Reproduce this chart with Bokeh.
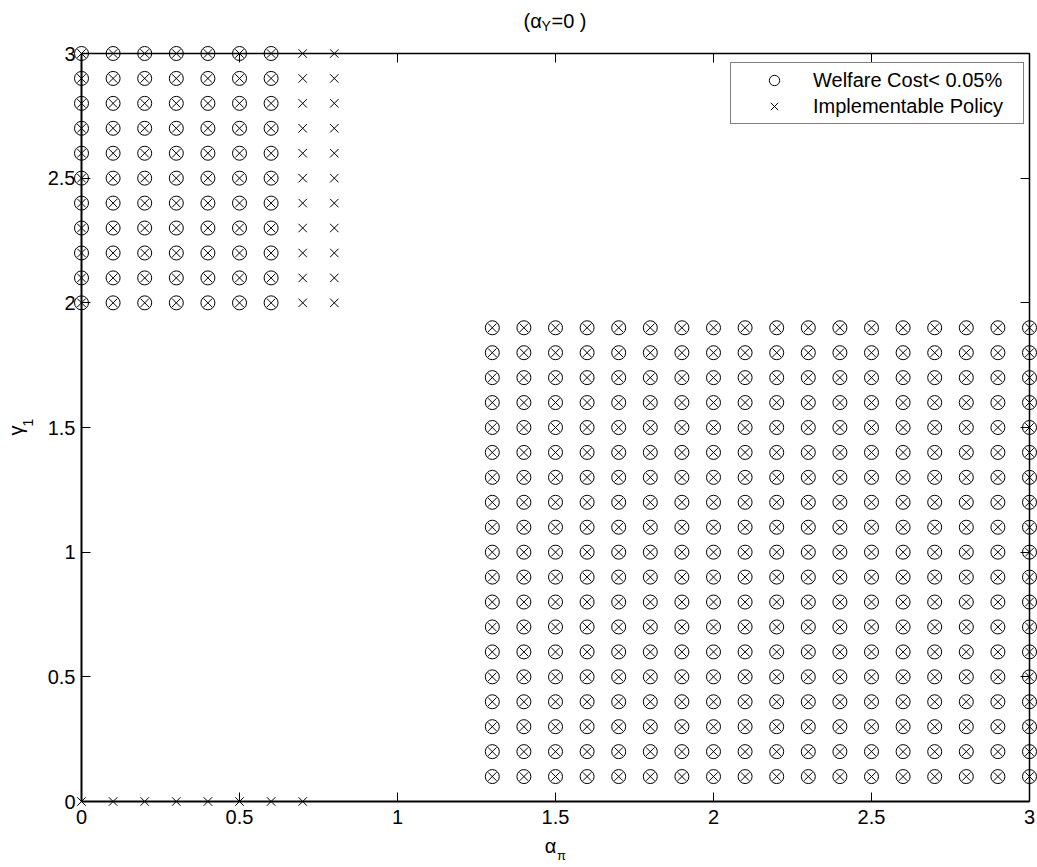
import math
from bokeh.plotting import figure
from bokeh.models import Range1d, LinearAxis, FixedTicker, Label, Legend, LegendItem, ColumnDataSource
from bokeh.core.properties import value
from bokeh.embed import file_html
from bokeh.resources import INLINE

# ---- data ----
# upper-left block
ul_alpha_circle = [0.0, 0.1, 0.2, 0.3, 0.4, 0.5, 0.6]
ul_alpha_cross = [0.0, 0.1, 0.2, 0.3, 0.4, 0.5, 0.6, 0.7, 0.8]
ul_gamma = [2.0, 2.1, 2.2, 2.3, 2.4, 2.5, 2.6, 2.7, 2.8, 2.9, 3.0]
# bottom row (gamma = 0)
bot_alpha_cross = [0.0, 0.1, 0.2, 0.3, 0.4, 0.5, 0.6, 0.7]
bot_gamma = [0.0]
# lower-right block
lr_alpha = [1.3, 1.4, 1.5, 1.6, 1.7, 1.8, 1.9, 2.0, 2.1, 2.2, 2.3, 2.4,
            2.5, 2.6, 2.7, 2.8, 2.9, 3.0]
lr_gamma = [0.1, 0.2, 0.3, 0.4, 0.5, 0.6, 0.7, 0.8, 0.9, 1.0, 1.1, 1.2,
            1.3, 1.4, 1.5, 1.6, 1.7, 1.8, 1.9]
tick_values = [0, 0.5, 1, 1.5, 2, 2.5, 3]
axis_min, axis_max = 0, 3
legend_labels = ["Welfare Cost< 0.05%", "Implementable Policy"]


def grid(xs, ys):
    gx, gy = [], []
    for yv in ys:
        for xv in xs:
            gx.append(xv)
            gy.append(yv)
    return gx, gy


cx1, cy1 = grid(ul_alpha_circle, ul_gamma)
cx2, cy2 = grid(lr_alpha, lr_gamma)
xx1, xy1 = grid(ul_alpha_cross, ul_gamma)
xx2, xy2 = grid(bot_alpha_cross, bot_gamma)
xx3, xy3 = grid(lr_alpha, lr_gamma)

circ_src = ColumnDataSource(dict(x=cx1 + cx2, y=cy1 + cy2))
cross_src = ColumnDataSource(dict(x=xx1 + xx2 + xx3, y=xy1 + xy2 + xy3))

FONT = "Liberation Sans"

# canvas geometry (pixels): plot box from (81,53) to (1029,801)
W, H = 1037, 867
BOX_L, BOX_R, BOX_T, BOX_B = 81, 1029, 53, 801
sx = (BOX_R - BOX_L) / (axis_max - axis_min)
sy = (BOX_B - BOX_T) / (axis_max - axis_min)
x_range = Range1d(axis_min - BOX_L / sx, axis_max + (W - BOX_R) / sx)
y_range = Range1d(axis_min - (H - BOX_B) / sy, axis_max + BOX_T / sy)

p = figure(frame_width=W, frame_height=H, x_range=x_range, y_range=y_range,
           output_backend="svg", toolbar_location=None,
           min_border=0, background_fill_color="white",
           border_fill_color="white", outline_line_color=None)
p.grid.visible = False

r_circ = p.scatter("x", "y", source=circ_src, marker="circle", size=14,
                   fill_color=None, line_color="black", line_width=1)
r_cross = p.scatter("x", "y", source=cross_src, marker="x", size=12,
                    line_color="black", line_width=1)

ticker = FixedTicker(ticks=tick_values)


def style_axis(ax, loc, labels=True, lw=1.5):
    ax.ticker = ticker
    ax.fixed_location = loc
    ax.bounds = (axis_min, axis_max)
    ax.minor_tick_line_color = None
    ax.major_tick_in = 9
    ax.major_tick_out = 0
    ax.axis_line_color = "black"
    ax.axis_line_width = lw
    ax.major_tick_line_color = "black"
    ax.major_tick_line_width = 1
    ax.major_label_text_font = FONT
    ax.major_label_text_color = "black"
    ax.major_label_text_font_size = "20px"
    if not labels:
        ax.major_label_overrides = {t: "" for t in tick_values}


style_axis(p.xaxis[0], axis_min, True, 2)
style_axis(p.yaxis[0], axis_min, True, 2)
p.xaxis[0].major_label_standoff = 8
p.yaxis[0].major_label_standoff = 6

top_ax = LinearAxis()
right_ax = LinearAxis()
style_axis(top_ax, axis_max, False, 1.5)
style_axis(right_ax, axis_max, False, 1.5)
p.add_layout(top_ax, "above")
p.add_layout(right_ax, "right")

legend = Legend(items=[LegendItem(label=legend_labels[0], renderers=[r_circ]),
                       LegendItem(label=legend_labels[1], renderers=[r_cross])],
                location=(730, H - 124))
legend.margin = 0
legend.padding = 4
legend.spacing = 0
legend.glyph_width = 78
legend.glyph_height = 26
legend.label_height = 20
legend.label_standoff = 0
legend.label_width = 206
legend.label_text_font = FONT
legend.label_text_font_size = "20px"
legend.label_text_color = "black"
legend.border_line_color = "black"
legend.border_line_width = 1
legend.background_fill_color = "white"
legend.background_fill_alpha = 1
p.add_layout(legend, "center")


def lab(text, x, y, xo, yo, size, align="left"):
    p.add_layout(Label(x=x, y=y, x_offset=xo, y_offset=yo, text=text,
                       text_font=FONT, text_font_size=size, text_color="black",
                       text_align=align, text_baseline="middle"))


# title (alpha_Y = 0)
lab("(α", 1.5, 3, -32, 33, "20px")
lab("Y", 1.5, 3, -14, 28, "14px")
lab("=0 )", 1.5, 3, -4, 33, "20px")
# x label alpha_pi
lab("α", 1.5, 0, -5, -44, "20px", align="center")
lab("π", 1.5, 0, 6, -54, "13px", align="center")

# y label gamma_1 (rotated, reading bottom to top)
ylab_src = ColumnDataSource(dict(x=[axis_min, axis_min], y=[1.5, 1.5],
                                 t=["γ", "1"], xo=[-66, -54], yo=[3, -5],
                                 fs=["20px", "14px"]))
p.text(x="x", y="y", text="t", x_offset="xo", y_offset="yo",
       text_font_size="fs", source=ylab_src, angle=math.pi / 2,
       text_font=value(FONT), text_color="black",
       text_align="center", text_baseline="middle")

open("out.html", "w").write(file_html(p, INLINE))
